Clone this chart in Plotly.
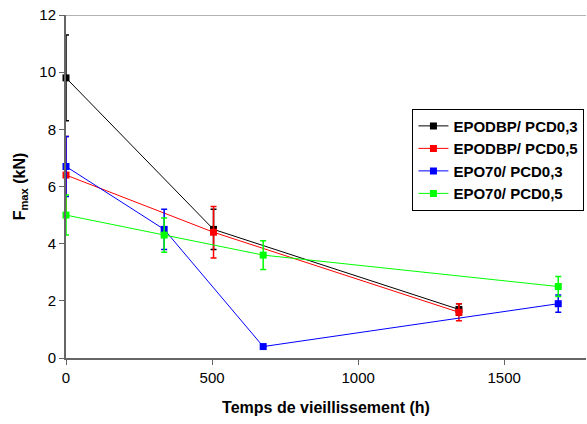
import plotly.graph_objects as go

# Aging time (h) and maximum force (kN) with standard deviations
t_epodbp = [0, 505, 1345]
f_epodbp_03 = [9.8, 4.5, 1.7]
e_epodbp_03 = [1.5, 0.7, 0.2]
f_epodbp_05 = [6.4, 4.4, 1.6]
e_epodbp_05 = [1.35, 0.9, 0.3]

t_epo70 = [0, 336, 675, 1685]
f_epo70_03 = [6.7, 4.5, 0.4, 1.9]
e_epo70_03 = [1.05, 0.7, 0.0, 0.3]
f_epo70_05 = [5.0, 4.3, 3.6, 2.5]
e_epo70_05 = [0.7, 0.6, 0.5, 0.35]

series = [
    ("EPODBP/ PCD0,3", t_epodbp, f_epodbp_03, e_epodbp_03, "#000000"),
    ("EPODBP/ PCD0,5", t_epodbp, f_epodbp_05, e_epodbp_05, "#ff0000"),
    ("EPO70/ PCD0,3", t_epo70, f_epo70_03, e_epo70_03, "#0000ff"),
    ("EPO70/ PCD0,5", t_epo70, f_epo70_05, e_epo70_05, "#00ff00"),
]

FONT = "Liberation Sans, Arial, sans-serif"

fig = go.Figure()
for name, x, y, err, col in series:
    fig.add_trace(go.Scatter(
        x=x, y=y, name=f"<b>{name}</b>", mode="lines+markers",
        line=dict(color=col, width=1),
        marker=dict(symbol="square", size=7, color=col),
        error_y=dict(type="data", array=err, visible=True,
                     color=col, thickness=1.5, width=3),
        cliponaxis=False,
    ))

# light frame line along the top of the plot area
fig.add_shape(type="line", xref="paper", yref="y", x0=0, x1=1, y0=12, y1=12,
              line=dict(color="#999999", width=1.5))

fig.update_layout(
    width=587, height=424,
    margin=dict(l=66, r=1, t=15, b=66),
    paper_bgcolor="white", plot_bgcolor="white",
    font=dict(family=FONT, size=15, color="#000000"),
    legend=dict(
        x=0.997, y=0.727, xanchor="right", yanchor="top",
        bgcolor="white", bordercolor="#000000", borderwidth=1,
        font=dict(size=15, family=FONT),
        tracegroupgap=0, itemwidth=30,
    ),
    xaxis=dict(
        range=[0, 1780], tickvals=[0, 500, 1000, 1500],
        showgrid=False, zeroline=False,
        showline=True, linecolor="#666666", linewidth=2,
        ticks="outside", ticklen=5, tickcolor="#666666", tickwidth=1,
        tickfont=dict(size=15),
        title=dict(text="<b>Temps de vieillissement (h)</b>",
                   font=dict(size=16), standoff=17),
    ),
    yaxis=dict(
        range=[0, 12], tickvals=[0, 2, 4, 6, 8, 10, 12],
        showgrid=False, zeroline=False,
        showline=True, linecolor="#666666", linewidth=2,
        ticks="outside", ticklen=5, tickcolor="#666666", tickwidth=1,
        tickfont=dict(size=15),
        title=dict(text="<b>F<sub>max</sub> (kN)</b>",
                   font=dict(size=16), standoff=10),
    ),
)

fig.write_html("out.html")
